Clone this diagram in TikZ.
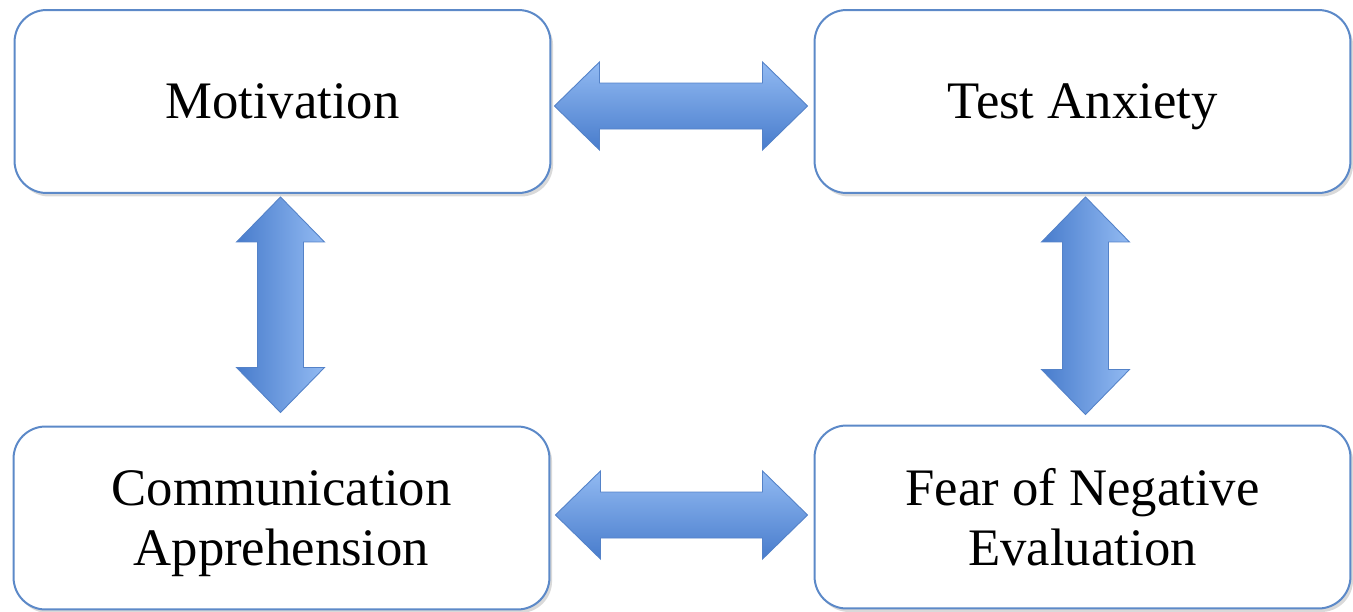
\documentclass[tikz,border=0pt]{standalone}
\usepackage{fontspec}
\setmainfont{Liberation Serif}
\usetikzlibrary{calc}
\usetikzlibrary{shadows}
\usepackage{xcolor}

\definecolor{boxline}{RGB}{92,137,200}
\definecolor{arlight}{RGB}{146,186,242}
\definecolor{ardark}{RGB}{72,124,204}
\definecolor{aredge}{RGB}{84,130,200}

\tikzset{
    box/.style={draw=boxline, line width=0.04cm, rounded corners=0.64cm, fill=white,
        minimum width=10.72cm, minimum height=3.66cm, outer sep=0pt, align=center,
        font=\fontsize{30}{34}\selectfont, text depth=0pt,
        drop shadow={shadow xshift=1.5pt, shadow yshift=-2pt, opacity=0.15, fill=black}},
    harrow/.style={top color=arlight, bottom color=ardark, draw=aredge, line width=0.5pt},
    varrow/.style={left color=ardark, right color=arlight, draw=aredge, line width=0.5pt}
}

\begin{document}
\begin{tikzpicture}[x=0.02cm, y=-0.02cm]
    \def\hlen{45}
    \def\hwid{44}
    \def\swid{23}
    \useasboundingbox (0,0) rectangle (1353,612);
    % boxes
    \node[box] (mot)  at (282.5,101.5) {Motivation};
    \node[box] (test) at (1082.5,101.5) {Test Anxiety};
    \node[box] (comm) at (281.5,518) {Communication\\Apprehension};
    \node[box] (fear) at (1082.5,517) {Fear of Negative\\Evaluation};
    % arrow tips
    \coordinate (a1) at ($(mot.east)+(4,4.5)$);
    \coordinate (b1) at ($(test.west)+(-7,4.5)$);
    \coordinate (a2) at ($(comm.east)+(6,-3)$);
    \coordinate (b2) at ($(fear.west)+(-7,-2)$);
    \coordinate (a3) at ($(mot.south)+(-2,4)$);
    \coordinate (b3) at ($(comm.north)+(-1,-14)$);
    \coordinate (a4) at ($(test.south)+(3,4)$);
    \coordinate (b4) at ($(fear.north)+(3,-11)$);
    % horizontal arrows
    \foreach \s/\e in {a1/b1, a2/b2}{
        \shade[harrow] (\s) -- ($(\s)+(\hlen,-\hwid)$) -- ($(\s)+(\hlen,-\swid)$)
            -- ($(\e)+(-\hlen,-\swid)$) -- ($(\e)+(-\hlen,-\hwid)$) -- (\e)
            -- ($(\e)+(-\hlen,\hwid)$) -- ($(\e)+(-\hlen,\swid)$)
            -- ($(\s)+(\hlen,\swid)$) -- ($(\s)+(\hlen,\hwid)$) -- cycle;
    }
    % vertical arrows
    \foreach \s/\e in {a3/b3, a4/b4}{
        \shade[varrow] (\s) -- ($(\s)+(-\hwid,\hlen)$) -- ($(\s)+(-\swid,\hlen)$)
            -- ($(\e)+(-\swid,-\hlen)$) -- ($(\e)+(-\hwid,-\hlen)$) -- (\e)
            -- ($(\e)+(\hwid,-\hlen)$) -- ($(\e)+(\swid,-\hlen)$)
            -- ($(\s)+(\swid,\hlen)$) -- ($(\s)+(\hwid,\hlen)$) -- cycle;
    }
\end{tikzpicture}
\end{document}
